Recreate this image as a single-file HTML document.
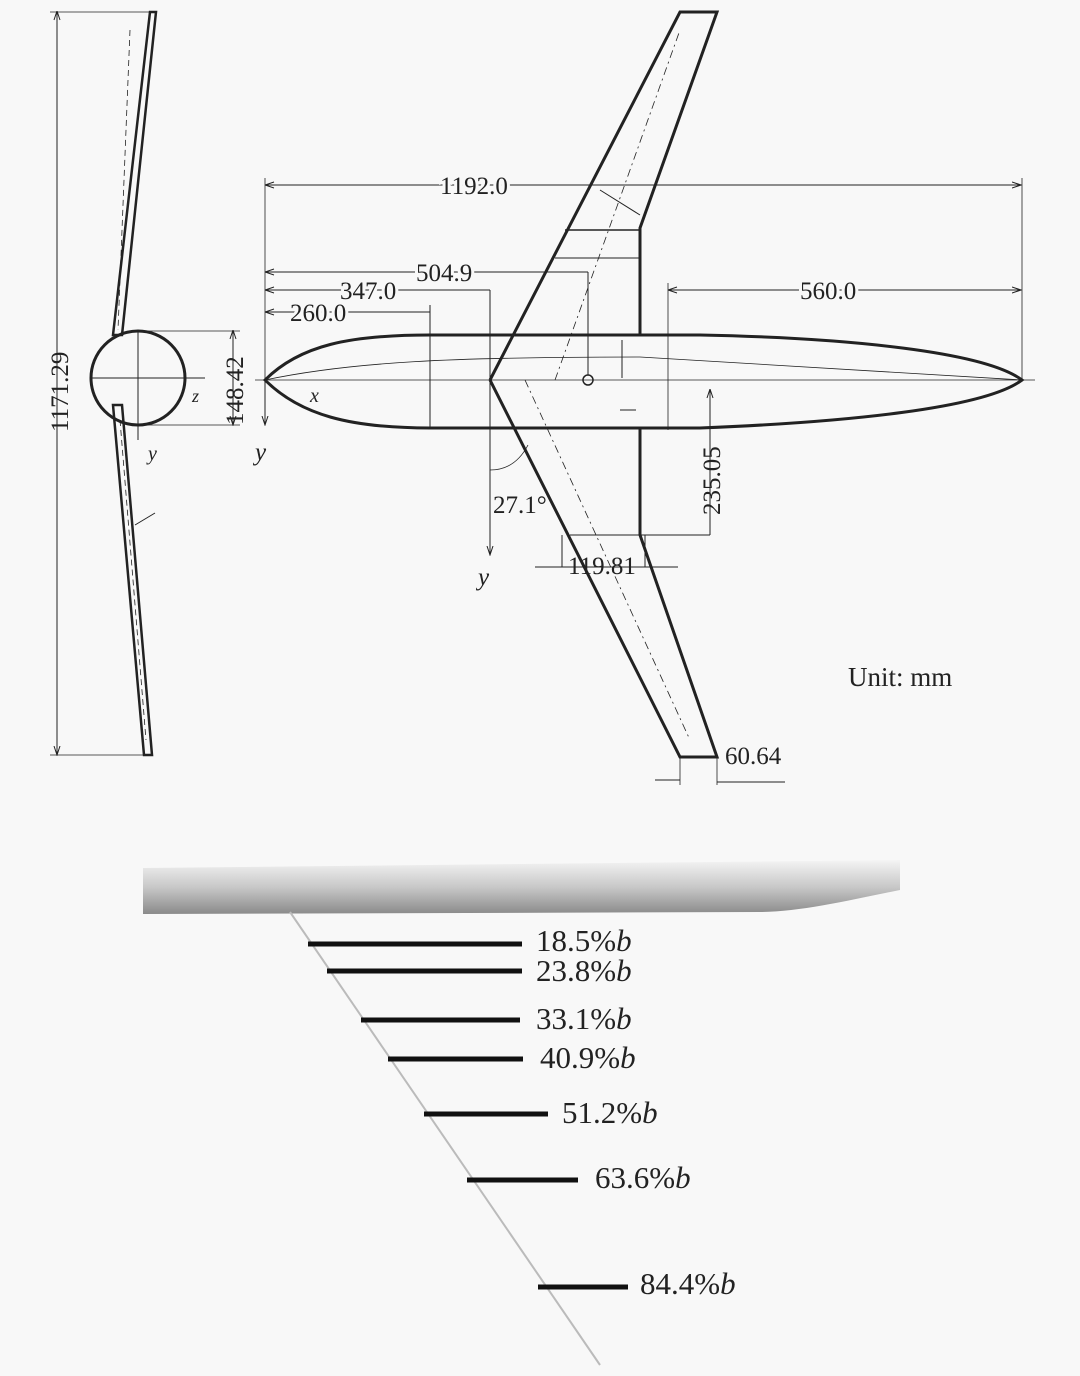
<!DOCTYPE html>
<html><head><meta charset="utf-8"><style>
html,body{margin:0;padding:0;background:#f8f8f8}
svg{display:block}
text{font-family:"Liberation Serif",serif;fill:#222}
</style></head><body>
<svg width="1080" height="1376" viewBox="0 0 1080 1376" xmlns="http://www.w3.org/2000/svg">
<defs>
<marker id="a" markerWidth="10" markerHeight="8" refX="9" refY="4" orient="auto"><path d="M0,1 L9,4 L0,7" fill="none" stroke="#222" stroke-width="1"/></marker>
<marker id="b" markerWidth="10" markerHeight="8" refX="1" refY="4" orient="auto"><path d="M9,1 L0,4 L9,7" fill="none" stroke="#222" stroke-width="1"/></marker>
<linearGradient id="g" x1="0" y1="0" x2="0" y2="1"><stop offset="0" stop-color="#f4f4f4"/><stop offset="0.5" stop-color="#c8c8c8"/><stop offset="1" stop-color="#8a8a8a"/></linearGradient>
</defs>
<g stroke="#222" fill="none">
<path d="M150,12 L156,12 L122,335 L113,335 Z" stroke-width="2.5"/>
<path d="M113,405 L122,405 L152,755 L144,755 Z" stroke-width="2.5"/>
<line x1="130" y1="30" x2="118" y2="330" stroke-width="0.8" stroke-dasharray="6,4"/>
<line x1="120" y1="420" x2="146" y2="740" stroke-width="0.8" stroke-dasharray="6,4"/>
<circle cx="138" cy="378" r="47" stroke-width="3"/>
<line x1="90" y1="378" x2="205" y2="378" stroke-width="1"/>
<line x1="138" y1="330" x2="138" y2="440" stroke-width="1"/>
<line x1="135" y1="525" x2="155" y2="513" stroke-width="1"/>
<line x1="57" y1="12" x2="57" y2="755" stroke-width="1" marker-start="url(#b)" marker-end="url(#a)"/>
<line x1="50" y1="12" x2="150" y2="12" stroke-width="0.8"/>
<line x1="50" y1="755" x2="150" y2="755" stroke-width="0.8"/>
<line x1="233" y1="331" x2="233" y2="425" stroke-width="1" marker-start="url(#b)" marker-end="url(#a)"/>
<line x1="140" y1="331" x2="240" y2="331" stroke-width="0.8"/>
<line x1="140" y1="425" x2="240" y2="425" stroke-width="0.8"/>
<path d="M265,380 C300,345 350,335 430,335 L700,335 C850,338 985,352 1022,380 C985,408 850,422 700,428 L430,428 C350,428 300,415 265,380 Z" stroke-width="3"/>
<path d="M265,380 C350,362 450,357 640,357 L1022,380" stroke-width="0.8"/>
<line x1="255" y1="380" x2="1035" y2="380" stroke-width="0.8"/>
<path d="M490,380 L680,12 L717,12 L640,228 L640,335" stroke-width="3"/>
<path d="M490,380 L680,757 L717,757 L640,535 L640,428" stroke-width="3"/>
<path d="M555,380 L680,30" stroke-width="0.8" stroke-dasharray="8,4,2,4"/>
<path d="M525,380 L690,740" stroke-width="0.8" stroke-dasharray="8,4,2,4"/>
<line x1="565" y1="230" x2="640" y2="230" stroke-width="1.5"/>
<line x1="555" y1="258" x2="640" y2="258" stroke-width="1"/>
<line x1="600" y1="190" x2="640" y2="215" stroke-width="1"/>
<line x1="570" y1="535" x2="710" y2="535" stroke-width="1"/>
<line x1="535" y1="567" x2="678" y2="567" stroke-width="1"/>
<line x1="562" y1="535" x2="562" y2="567" stroke-width="1"/>
<line x1="645" y1="535" x2="645" y2="567" stroke-width="1"/>
<circle cx="588" cy="380" r="5" stroke-width="1.5"/>
<line x1="588" y1="272" x2="588" y2="375" stroke-width="1"/>
<line x1="622" y1="340" x2="622" y2="378" stroke-width="1"/>
<line x1="620" y1="410" x2="636" y2="410" stroke-width="1"/>
<line x1="266" y1="185" x2="1021" y2="185" stroke-width="1" marker-start="url(#b)" marker-end="url(#a)"/>
<line x1="265" y1="178" x2="265" y2="380" stroke-width="0.8"/>
<line x1="1022" y1="178" x2="1022" y2="380" stroke-width="0.8"/>
<line x1="266" y1="272" x2="588" y2="272" stroke-width="1" marker-start="url(#b)"/>
<line x1="266" y1="290" x2="490" y2="290" stroke-width="1" marker-start="url(#b)"/>
<line x1="490" y1="290" x2="490" y2="555" stroke-width="1" marker-end="url(#a)"/>
<line x1="266" y1="312" x2="430" y2="312" stroke-width="1" marker-start="url(#b)"/>
<line x1="430" y1="305" x2="430" y2="428" stroke-width="1"/>
<line x1="669" y1="290" x2="1021" y2="290" stroke-width="1" marker-start="url(#b)" marker-end="url(#a)"/>
<line x1="668" y1="283" x2="668" y2="430" stroke-width="0.8"/>
<line x1="710" y1="390" x2="710" y2="535" stroke-width="1" marker-start="url(#b)"/>
<line x1="265" y1="380" x2="265" y2="425" stroke-width="1" marker-end="url(#a)"/>
<line x1="680" y1="757" x2="680" y2="785" stroke-width="0.8"/>
<line x1="717" y1="757" x2="717" y2="785" stroke-width="0.8"/>
<line x1="655" y1="780" x2="680" y2="780" stroke-width="1"/>
<line x1="717" y1="782" x2="785" y2="782" stroke-width="1"/>
<path d="M490,470 Q515,470 528,445" stroke-width="0.8"/>
</g>
<g font-size="25">
<text x="440" y="194" style="paint-order:stroke" stroke="#f8f8f8" stroke-width="6">1192.0</text>
<text x="416" y="281" stroke="#f8f8f8" stroke-width="6" style="paint-order:stroke">504.9</text>
<text x="340" y="299" stroke="#f8f8f8" stroke-width="6" style="paint-order:stroke">347.0</text>
<text x="290" y="321" stroke="#f8f8f8" stroke-width="6" style="paint-order:stroke">260.0</text>
<text x="800" y="299" stroke="#f8f8f8" stroke-width="6" style="paint-order:stroke">560.0</text>
<text x="493" y="513">27.1°</text>
<text x="568" y="574">119.81</text>
<text x="725" y="764">60.64</text>
<text x="848" y="686" font-size="27">Unit: mm</text>
<text transform="translate(720,515) rotate(-90)">235.05</text>
<text transform="translate(243,425) rotate(-90)">148.42</text>
<text transform="translate(68,432) rotate(-90)">1171.29</text>
<text x="310" y="402" font-style="italic" font-size="20">x</text>
<text x="255" y="460" font-style="italic">y</text>
<text x="478" y="585" font-style="italic">y</text>
<text x="148" y="460" font-style="italic" font-size="20">y</text>
<text x="192" y="402" font-style="italic" font-size="18">z</text>
</g>
<path d="M143,868 L900,860 L900,890 C850,900 800,912 760,912 L143,914 Z" fill="url(#g)"/>
<line x1="290" y1="912" x2="600" y2="1365" stroke="#bbb" stroke-width="2"/>
<g stroke="#111" stroke-width="5">
<line x1="308" y1="944" x2="522" y2="944"/>
<line x1="327" y1="971" x2="522" y2="971"/>
<line x1="361" y1="1020" x2="520" y2="1020"/>
<line x1="388" y1="1059" x2="523" y2="1059"/>
<line x1="424" y1="1114" x2="548" y2="1114"/>
<line x1="467" y1="1180" x2="578" y2="1180"/>
<line x1="538" y1="1287" x2="628" y2="1287"/>
</g>
<g font-size="31">
<text x="536" y="951">18.5%<tspan font-style="italic">b</tspan></text>
<text x="536" y="981">23.8%<tspan font-style="italic">b</tspan></text>
<text x="536" y="1029">33.1%<tspan font-style="italic">b</tspan></text>
<text x="540" y="1068">40.9%<tspan font-style="italic">b</tspan></text>
<text x="562" y="1123">51.2%<tspan font-style="italic">b</tspan></text>
<text x="595" y="1188">63.6%<tspan font-style="italic">b</tspan></text>
<text x="640" y="1294">84.4%<tspan font-style="italic">b</tspan></text>
</g>
</svg>
</body></html>
